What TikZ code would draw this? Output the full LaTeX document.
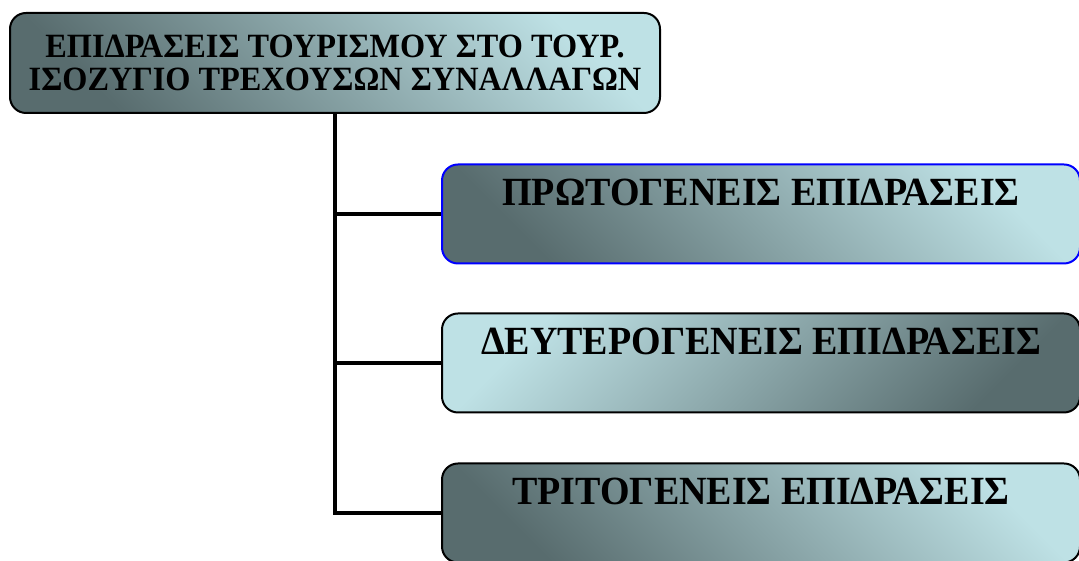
\documentclass[tikz,border=0pt]{standalone}
\usepackage{fontspec}
\setmainfont{Liberation Serif}
\newfontfamily\grkfont[FakeStretch=0.95]{Liberation Serif}
\usetikzlibrary{positioning}

\definecolor{boxdark}{RGB}{88,108,110}
\definecolor{boxlight}{RGB}{190,225,229}

\tikzset{
    effectbox/.style = {draw, line width=2pt, rounded corners=16pt,
        font=\grkfont\bfseries\fontsize{40}{34}\selectfont, align=center},
    risebox/.style = {effectbox, top color=boxlight, bottom color=boxdark, shading angle=-45},
    fallbox/.style = {effectbox, top color=boxlight, bottom color=boxdark, shading angle=45},
    subbox/.style = {minimum width=638pt, text height=31pt, text depth=48pt, inner ysep=10pt},
    branch/.style = {line width=4.5pt}
}

\begin{document}
\begin{tikzpicture}[x=1pt, y=1pt]
        \useasboundingbox (0, 0) rectangle (1079, 561);
        \clip (0, 0) rectangle (1079, 561);

        \node[risebox, minimum width=650pt, minimum height=100pt, inner sep=0pt,
            font=\grkfont\bfseries\fontsize{34}{33}\selectfont] (balance) at (335, 498)
            {ΕΠΙΔΡΑΣΕΙΣ ΤΟΥΡΙΣΜΟΥ ΣΤΟ ΤΟΥΡ.\\ΙΣΟΖΥΓΙΟ ΤΡΕΧΟΥΣΩΝ ΣΥΝΑΛΛΑΓΩΝ};

        \node[risebox, subbox, draw=blue] (primary) at (761, 347) {ΠΡΩΤΟΓΕΝΕΙΣ ΕΠΙΔΡΑΣΕΙΣ};
        \node[fallbox, subbox] (secondary) at (761, 198) {ΔΕΥΤΕΡΟΓΕΝΕΙΣ ΕΠΙΔΡΑΣΕΙΣ};
        \node[risebox, subbox] (tertiary) at (761, 48) {ΤΡΙΤΟΓΕΝΕΙΣ ΕΠΙΔΡΑΣΕΙΣ};

        \coordinate (trunk) at (balance.south);
        \draw[branch] (trunk) |- (tertiary.west);
        \draw[branch] (trunk |- primary.west) -- (primary.west);
        \draw[branch] (trunk |- secondary.west) -- (secondary.west);
\end{tikzpicture}
\end{document}
